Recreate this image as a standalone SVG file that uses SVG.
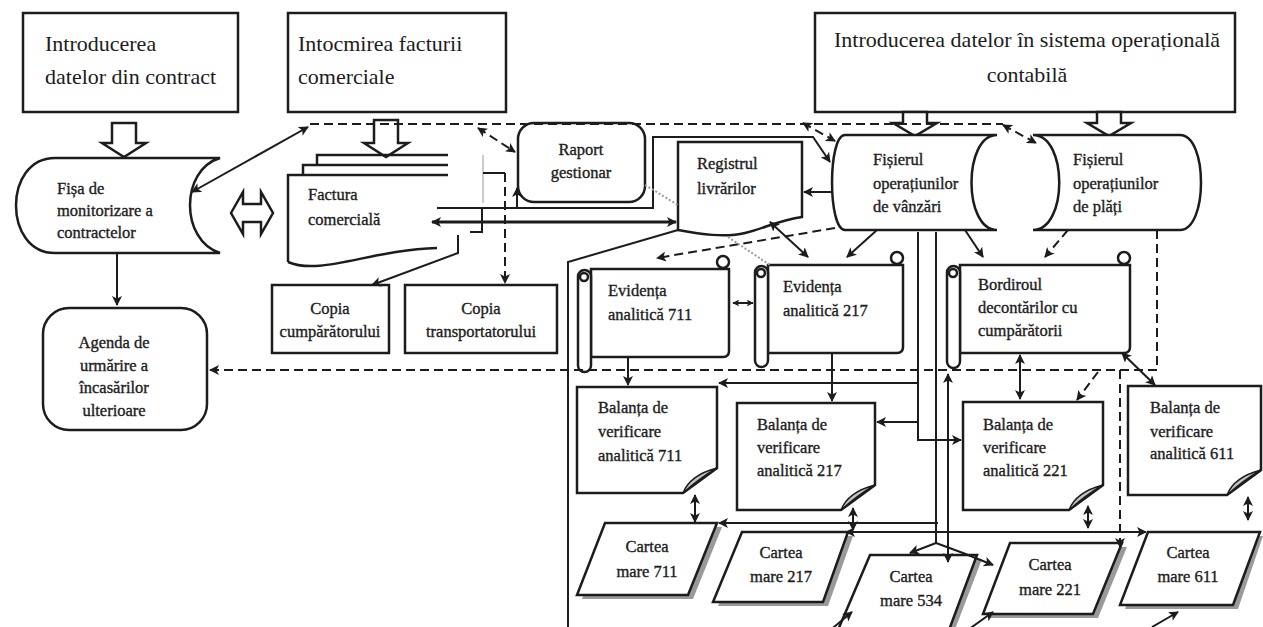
<svg xmlns="http://www.w3.org/2000/svg" width="1263" height="627" viewBox="0 0 1263 627">
<style>
.box{fill:#fff;stroke:#1c1c1c;stroke-width:2.5}
.ln{fill:none;stroke:#1c1c1c;stroke-width:2}
.dash{stroke-dasharray:9 5}
.dot{fill:none;stroke:#9a9a9a;stroke-width:2;stroke-dasharray:2 2}
.shadow{fill:#9a9a9a;stroke:none}
.fold{fill:#c4c4c4;stroke:#1c1c1c;stroke-width:1.5}
.big{font-family:"Liberation Serif","Times New Roman",serif;font-size:22px;fill:#1c1c1c}
.sm{font-family:"Liberation Serif","Times New Roman",serif;font-size:16.5px;fill:#1c1c1c;stroke:#1c1c1c;stroke-width:0.35}
.mid{text-anchor:middle}
</style>
<defs>
<marker id="ah" viewBox="0 0 10 10" refX="9" refY="5" markerWidth="10" markerHeight="10" markerUnits="userSpaceOnUse" orient="auto-start-reverse"><path d="M0,0 L10,5 L0,10 L2.5,5 Z" fill="#1c1c1c"/></marker>
<marker id="ahs" viewBox="0 0 10 10" refX="9" refY="5" markerWidth="7" markerHeight="7" markerUnits="userSpaceOnUse" orient="auto-start-reverse"><path d="M0,0 L10,5 L0,10 L2.5,5 Z" fill="#1c1c1c"/></marker>
</defs>

<g id="n-intro-contract">
<rect class="box" x="23" y="13" width="215" height="99"/>
<text class="big" x="45" y="51">Introducerea</text>
<text class="big" x="45" y="84">datelor din contract</text>
</g>
<g id="n-intocmirea">
<rect class="box" x="288" y="13" width="218" height="99"/>
<text class="big" x="298" y="51">Intocmirea facturii</text>
<text class="big" x="298" y="84">comerciale</text>
</g>
<g id="n-intro-sistem">
<rect class="box" x="815" y="13" width="420" height="99"/>
<text class="big mid" x="1027" y="47">Introducerea datelor în sistema operațională</text>
<text class="big mid" x="1027" y="82">contabilă</text>
</g>

<g id="block-arrows">
<polygon class="box" points="112,123 136,123 136,143 146,143 124,157 102,143 112,143"/>
<polygon class="box" points="374,120 398,120 398,143 408,143 386,157 364,143 374,143"/>
<polygon class="box" points="903,112 927,112 927,123 937,123 915,136 893,123 903,123"/>
<polygon class="box" points="1097,112 1121,112 1121,123 1131,123 1109,136 1087,123 1097,123"/>
<polygon class="box" points="231,213 243,192 243,204 261,204 261,192 273,213 261,234 261,222 243,222 243,234"/>
</g>

<g id="n-fisa">
<path class="box" d="M55,158 H220 C180,170 180,240 220,253 H55 C3,253 3,158 55,158 Z"/>
<text class="sm" x="57" y="194">Fișa de</text>
<text class="sm" x="57" y="216">monitorizare a</text>
<text class="sm" x="57" y="238">contractelor</text>
</g>

<g id="n-agenda">
<rect class="box" x="43" y="308" width="164" height="122" rx="26"/>
<text class="sm mid" x="114" y="348">Agenda de</text>
<text class="sm mid" x="114" y="371">urmărire a</text>
<text class="sm mid" x="114" y="393">încasărilor</text>
<text class="sm mid" x="114" y="416">ulterioare</text>
</g>

<g id="n-factura">
<path class="ln" style="stroke-width:2.5" d="M317,165 V155 H448 M303,175 V165 H448 M288,262 V175 H448"/>
<path class="ln" style="stroke-width:2.5" d="M288,262 C320,276 370,250 437,248"/>
<path d="M483,155 V203" stroke="#aaa" stroke-width="1.2" fill="none"/>
<text class="sm" x="308" y="200">Factura</text>
<text class="sm" x="308" y="225">comercială</text>
</g>

<g id="n-copia-cump">
<rect class="box" x="272" y="285" width="117" height="68"/>
<text class="sm mid" x="330" y="314">Copia</text>
<text class="sm mid" x="330" y="337">cumpărătorului</text>
</g>
<g id="n-copia-transp">
<rect class="box" x="405" y="285" width="152" height="68"/>
<text class="sm mid" x="481" y="314">Copia</text>
<text class="sm mid" x="481" y="337">transportatorului</text>
</g>

<g id="n-raport">
<rect class="box" x="518" y="123" width="127" height="79" rx="16"/>
<text class="sm mid" x="581" y="155">Raport</text>
<text class="sm mid" x="581" y="178">gestionar</text>
</g>

<g id="n-registrul">
<path class="box" d="M678,142 H802 V217 C780,220 765,228 745,233 C725,238 700,234 678,230 Z"/>
<text class="sm" x="697" y="169">Registrul</text>
<text class="sm" x="697" y="194">livrărilor</text>
</g>

<g id="n-fis-vanzari">
<path class="box" d="M845,135 H997 C963,135 963,230 997,230 H845 C827.7,230 827.7,135 845,135 Z"/>
<text class="sm" x="873" y="165">Fișierul</text>
<text class="sm" x="873" y="189">operațiunilor</text>
<text class="sm" x="873" y="212">de vânzări</text>
</g>
<g id="n-fis-plati">
<path class="box" d="M1033,135 H1180 C1208,135 1208,230 1180,230 H1033 C1068,230 1068,135 1033,135 Z"/>
<text class="sm" x="1073" y="165">Fișierul</text>
<text class="sm" x="1073" y="189">operațiunilor</text>
<text class="sm" x="1073" y="212">de plăți</text>
</g>

<g id="n-ev711">
<path class="box" d="M591,269 H729 V351 Q729,357 723,357 H591 Z"/>
<rect class="box" x="578" y="270" width="13" height="102" rx="6.5"/>
<circle class="box" cx="584" cy="277" r="4"/>
<circle class="box" cx="723" cy="262" r="6"/>
<text class="sm" x="608" y="296">Evidența</text>
<text class="sm" x="608" y="320">analitică 711</text>
</g>
<g id="n-ev217">
<path class="box" d="M768,265 H903 V347 Q903,353 897,353 H768 Z"/>
<rect class="box" x="755" y="266" width="13" height="101" rx="6.5"/>
<circle class="box" cx="761" cy="273" r="4"/>
<circle class="box" cx="897" cy="258" r="6"/>
<text class="sm" x="783" y="292">Evidența</text>
<text class="sm" x="783" y="316">analitică 217</text>
</g>
<g id="n-bord">
<path class="box" d="M960,265 H1130 V347 Q1130,353 1124,353 H960 Z"/>
<rect class="box" x="947" y="266" width="13" height="102" rx="6.5"/>
<circle class="box" cx="953" cy="273" r="4"/>
<circle class="box" cx="1124" cy="258" r="6"/>
<text class="sm" x="978" y="290">Bordiroul</text>
<text class="sm" x="978" y="313">decontărilor cu</text>
<text class="sm" x="978" y="336">cumpărătorii</text>
</g>

<g id="n-bal711">
<path class="box" d="M577,387 H717 V468 L683,493 H577 Z"/>
<path class="fold" d="M683,493 Q690,475 717,468 Q700,478 683,493 Z"/>
<text class="sm" x="598" y="413">Balanța de</text>
<text class="sm" x="598" y="437">verificare</text>
<text class="sm" x="598" y="461">analitică  711</text>
</g>
<g id="n-bal217">
<path class="box" d="M737,403 H875 V485 L841,510 H737 Z"/>
<path class="fold" d="M841,510 Q848,492 875,485 Q858,495 841,510 Z"/>
<text class="sm" x="757" y="430">Balanța de</text>
<text class="sm" x="757" y="453">verificare</text>
<text class="sm" x="757" y="476">analitică  217</text>
</g>
<g id="n-bal221">
<path class="box" d="M963,402 H1103 V485 L1069,510 H963 Z"/>
<path class="fold" d="M1069,510 Q1076,492 1103,485 Q1086,495 1069,510 Z"/>
<text class="sm" x="983" y="430">Balanța de</text>
<text class="sm" x="983" y="453">verificare</text>
<text class="sm" x="983" y="476">analitică  221</text>
</g>
<g id="n-bal611">
<path class="box" d="M1128,386 H1261 V470 L1227,495 H1128 Z"/>
<path class="fold" d="M1227,495 Q1234,477 1261,470 Q1244,480 1227,495 Z"/>
<text class="sm" x="1150" y="413">Balanța de</text>
<text class="sm" x="1150" y="437">verificare</text>
<text class="sm" x="1150" y="459">analitică  611</text>
</g>

<g id="n-c711">
<polygon class="shadow" points="610,527 722,527 693,599 582,599"/>
<polygon class="box" points="605,523 717,523 688,595 577,595"/>
<text class="sm mid" x="647" y="552">Cartea</text>
<text class="sm mid" x="647" y="577">mare  711</text>
</g>
<g id="n-c217">
<polygon class="shadow" points="747,536 853,536 828,606 718,606"/>
<polygon class="box" points="742,532 848,532 823,602 713,602"/>
<text class="sm mid" x="781" y="558">Cartea</text>
<text class="sm mid" x="781" y="582">mare  217</text>
</g>
<g id="n-c534">
<polygon class="shadow" points="875,559 982,559 954,632 843,632"/>
<polygon class="box" points="870,555 977,555 949,630 838,630"/>
<text class="sm mid" x="911" y="582">Cartea</text>
<text class="sm mid" x="911" y="606">mare  534</text>
</g>
<g id="n-c221">
<polygon class="shadow" points="1015,547 1127,547 1098,618 988,618"/>
<polygon class="box" points="1010,543 1122,543 1093,614 983,614"/>
<text class="sm mid" x="1050" y="570">Cartea</text>
<text class="sm mid" x="1050" y="595">mare  221</text>
</g>
<g id="n-c611">
<polygon class="shadow" points="1153,536 1263,536 1238,609 1125,609"/>
<polygon class="box" points="1148,532 1260,532 1233,605 1120,605"/>
<text class="sm mid" x="1188" y="558">Cartea</text>
<text class="sm mid" x="1188" y="582">mare  611</text>
</g>

<g id="connectors">
<path class="ln" d="M192,192 L308,127" marker-start="url(#ah)" marker-end="url(#ah)"/>
<path class="ln" d="M117,253 V305" marker-end="url(#ah)"/>
<path class="ln" d="M437,208 H653 V137 H813 L830,162" marker-end="url(#ah)"/>
<path class="ln" d="M517,208 V188" marker-end="url(#ah)"/>
<path class="ln" style="stroke-width:3" d="M432,222 H676" marker-start="url(#ah)" marker-end="url(#ah)"/>
<path class="ln" d="M458,235 V253 L372,285" marker-end="url(#ah)"/>
<path class="ln" d="M470,232 H482 V208"/>
<path class="ln" d="M483,173 H505"/>
<path class="ln" d="M678,230 L568,262 V627"/>
<path class="ln" d="M833,192 H804" marker-end="url(#ah)"/>
<path class="ln" d="M770,222 L808,257" marker-start="url(#ah)" marker-end="url(#ah)"/>
<path class="ln" d="M877,230 L847,257" marker-end="url(#ah)"/>
<path class="ln" d="M965,230 L983,257" marker-end="url(#ah)"/>
<path class="ln" d="M733,303 H753" marker-start="url(#ahs)" marker-end="url(#ahs)"/>
<path class="ln" d="M628,357 V385" marker-end="url(#ah)"/>
<path class="ln" d="M832,353 V401" marker-end="url(#ah)"/>
<path class="ln" d="M918,383 H719" marker-end="url(#ah)"/>
<path class="ln" d="M918,232 V440 H961" marker-end="url(#ah)"/>
<path class="ln" d="M918,422 H877" marker-end="url(#ah)"/>
<path class="ln" d="M936,232 V543"/>
<path class="ln" d="M936,543 L910,553" marker-end="url(#ah)"/>
<path class="ln" d="M936,543 L963,553 L993,565" marker-end="url(#ah)"/>
<path class="ln" d="M948,374 V562" marker-start="url(#ah)" marker-end="url(#ah)"/>
<path class="ln" d="M1020,355 V399" marker-start="url(#ah)" marker-end="url(#ah)"/>
<path class="ln" d="M1122,353 L1155,385" marker-start="url(#ah)" marker-end="url(#ah)"/>
<path class="ln" d="M695,495 V522" marker-start="url(#ah)" marker-end="url(#ah)"/>
<path class="ln" d="M853,508 V530" marker-start="url(#ah)" marker-end="url(#ah)"/>
<path class="ln" d="M1088,506 V528" marker-start="url(#ah)" marker-end="url(#ah)"/>
<path class="ln" d="M1248,497 V520" marker-start="url(#ah)" marker-end="url(#ah)"/>
<path class="ln" d="M938,523 H719" marker-end="url(#ah)"/>
<path class="ln" d="M846,532 H1146" marker-start="url(#ah)" marker-end="url(#ah)"/>
<path class="ln" d="M828,632 L852,612" marker-end="url(#ah)"/>
<path class="ln" d="M965,632 L993,612" marker-end="url(#ah)"/>
<path class="ln" d="M1152,627 L1178,612" marker-end="url(#ah)"/>
<path class="ln dash" d="M310,124 H1003"/>
<path class="ln dash" d="M478,128 L515,152" marker-start="url(#ah)" marker-end="url(#ah)"/>
<path class="ln dash" d="M505,173 V283" marker-end="url(#ah)"/>
<path class="ln dash" d="M803,123 L835,141" marker-start="url(#ah)" marker-end="url(#ah)"/>
<path class="ln dash" d="M1003,125 L1036,143" marker-start="url(#ah)" marker-end="url(#ah)"/>
<path class="ln dash" d="M835,228 L657,258" marker-end="url(#ah)"/>
<path class="ln dash" d="M1068,230 L1045,257" marker-end="url(#ah)"/>
<path class="ln dash" d="M1157,230 V370 H210" marker-end="url(#ah)"/>
<path class="ln dash" d="M1120,370 V547" marker-end="url(#ah)"/>
<path class="ln dash" d="M1098,372 L1077,400" marker-end="url(#ah)"/>
<path class="dot" d="M645,185 L678,205"/>
<path class="dot" d="M728,237 L770,265"/>
</g>
</svg>
